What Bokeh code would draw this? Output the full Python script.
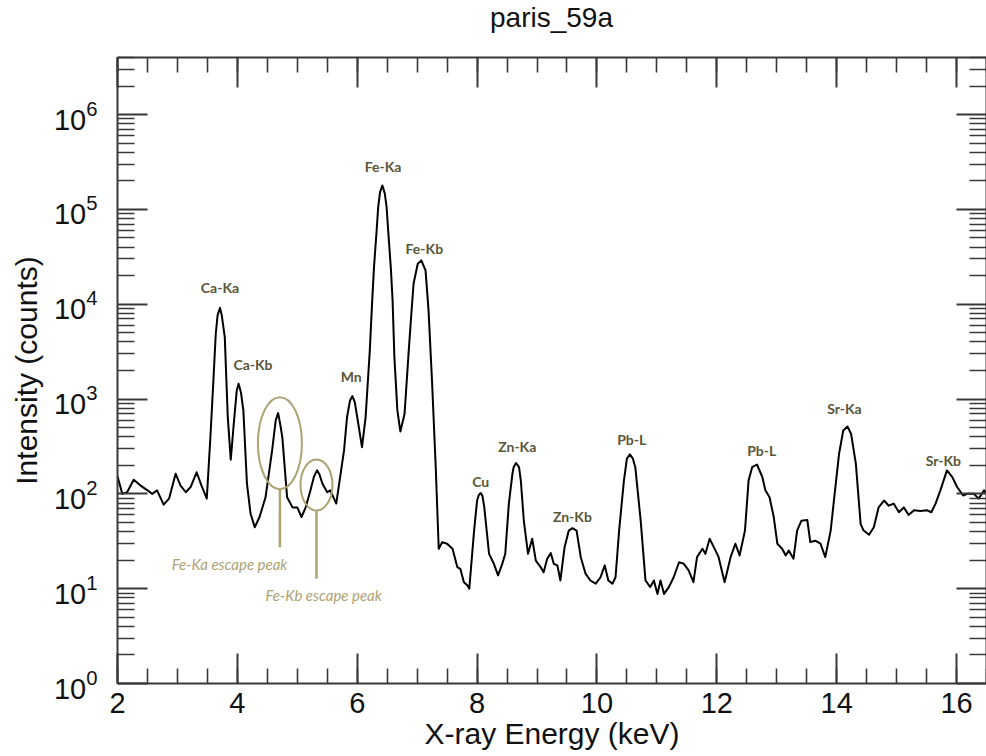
from bokeh.plotting import figure
from bokeh.layouts import column
from bokeh.models import (LogAxis, LinearAxis, FixedTicker, SingleIntervalTicker,
                          Range1d, Div)
from bokeh.core.properties import value
from bokeh.embed import file_html
from bokeh.resources import INLINE

# XRF spectrum of sample paris_59a: energy (keV) and detector counts
energy_kev = [
    2.00, 2.08, 2.16, 2.27, 2.38, 2.50, 2.58, 2.66, 2.77, 2.86, 2.97, 3.05, 3.14,
    3.22, 3.32, 3.40, 3.49, 3.55, 3.60, 3.64, 3.67, 3.71, 3.74, 3.79, 3.84, 3.89,
    3.94, 3.99, 4.02, 4.06, 4.10, 4.16, 4.22, 4.29, 4.37, 4.47, 4.58, 4.64, 4.68,
    4.71, 4.75, 4.83, 4.92, 5.00, 5.07, 5.14, 5.22, 5.28, 5.33, 5.37, 5.42, 5.50,
    5.55, 5.65, 5.78, 5.83, 5.88, 5.92, 5.96, 6.00, 6.08, 6.14, 6.21, 6.25, 6.28,
    6.32, 6.35, 6.38, 6.42, 6.46, 6.49, 6.52, 6.56, 6.59, 6.62, 6.67, 6.72, 6.79,
    6.86, 6.90, 6.94, 7.01, 7.07, 7.14, 7.19, 7.25, 7.31, 7.36, 7.42, 7.50, 7.59,
    7.67, 7.72, 7.78, 7.84, 7.87, 7.95, 8.00, 8.03, 8.06, 8.09, 8.12, 8.20, 8.28,
    8.35, 8.42, 8.47, 8.53, 8.59, 8.61, 8.65, 8.70, 8.73, 8.78, 8.85, 8.92, 8.98,
    9.06, 9.11, 9.17, 9.23, 9.28, 9.34, 9.39, 9.46, 9.53, 9.59, 9.66, 9.73, 9.81,
    9.89, 9.98, 10.06, 10.13, 10.19, 10.26, 10.31, 10.37, 10.45, 10.50, 10.55,
    10.60, 10.64, 10.73, 10.81, 10.89, 10.95, 11.01, 11.06, 11.12, 11.20, 11.28,
    11.37, 11.45, 11.53, 11.61, 11.67, 11.76, 11.81, 11.88, 11.95, 12.03, 12.13,
    12.23, 12.31, 12.38, 12.47, 12.53, 12.59, 12.67, 12.76, 12.81, 12.88, 12.95,
    13.01, 13.09, 13.15, 13.20, 13.28, 13.34, 13.41, 13.51, 13.56, 13.65, 13.73,
    13.81, 13.90, 13.96, 14.04, 14.11, 14.18, 14.24, 14.32, 14.40, 14.45, 14.54,
    14.62, 14.70, 14.79, 14.87, 14.95, 15.04, 15.12, 15.20, 15.29, 15.40, 15.51,
    15.58, 15.65, 15.73, 15.84, 15.93, 16.01, 16.11, 16.18, 16.29, 16.37, 16.46,
    16.50,
]
intensity_counts = [
    153, 100, 104, 141, 123, 109, 100, 109, 77, 89, 163, 123, 104,
    118, 169, 123, 89, 396, 1570, 4920, 7620, 9190, 7620, 4500, 645, 229,
    549, 1233, 1450, 1175, 759, 128, 62, 44.5, 57, 92, 287, 595, 710,
    567, 396, 92, 72, 72, 57, 72, 109, 153, 177, 160, 128, 104,
    109, 79, 287, 645, 967, 1074, 921, 645, 311, 645, 3260, 10970, 24650,
    55460, 105900, 151000, 179000, 147600, 105900, 55460, 24650, 10970, 2770, 759, 455, 700,
    3260, 7430, 16440, 26740, 28970, 22750, 8610, 1450, 191, 26.4, 31, 29.8, 26.4,
    16.9, 16.2, 11.7, 10.8, 10.0, 41, 85, 97.5, 102, 95, 72, 23.3, 18.3,
    13.8, 18.3, 23.3, 79, 163, 191, 211, 191, 138, 52, 23.3, 33.6, 19.8,
    16.9, 14.9, 20.7, 23.7, 18.3, 17.6, 12.2, 27.4, 41, 43.5, 41, 21.5, 14.4,
    12.2, 11.3, 13.2, 17.6, 12.2, 11.3, 13.2, 41, 138, 235, 261,
    235, 191, 52, 12.2, 10.4, 12.2, 8.8, 12.2, 8.8, 10.4, 13.2,
    19.0, 18.3, 15.6, 11.7, 21.5, 26.4, 23.3, 33.6, 27.4, 21.5, 11.7,
    21.5, 29.8, 22.4, 41, 138, 191, 204, 150, 109, 92, 57,
    29.8, 26.4, 22.4, 25.3, 20.7, 41, 52, 53, 31, 32, 29.8,
    21.5, 41, 92, 265, 467, 514, 431, 208, 48, 41, 37,
    44.5, 72, 85, 75, 79, 64, 72, 60, 67, 66, 67,
    64, 79, 109, 177, 150, 118, 96, 100, 100, 89, 109,
    100,
]

# Emission-line labels and where they sit (keV, counts)
line_names = ["Ca-Ka", "Ca-Kb", "Mn", "Fe-Ka", "Fe-Kb", "Cu", "Zn-Ka",
              "Zn-Kb", "Pb-L", "Pb-L", "Sr-Ka", "Sr-Kb"]
line_label_kev = [3.71, 4.26, 5.90, 6.43, 7.12, 8.06, 8.67,
                  9.59, 10.58, 12.75, 14.13, 15.78]
line_label_counts = [15000, 2320, 1730, 284000, 38800, 135, 316,
                     57.8, 375, 287, 796, 225]

# Escape peaks: circled peak, pointer line and caption
escape_names = ["Fe-Ka escape peak", "Fe-Kb escape peak"]
escape_kev = [4.71, 5.32]
escape_counts = [342, 124]
escape_ring_px = [(44, 92), (32, 51)]
escape_pointer_counts = [(111, 27.4), (67, 12.7)]
escape_text_kev = [3.87, 5.44]
escape_text_counts = [18.0, 8.48]

TITLE = "paris_59a"

AXIS_COLOR = "#383838"
TEXT_COLOR = "#111111"
LINE_LABEL_COLOR = "#5a5638"
ESCAPE_COLOR = "#ada273"

TITLE_H = 40
LEFT = 117

p = figure(width=986, height=756 - TITLE_H,
           x_range=Range1d(2, 16.5), y_range=Range1d(1, 4e6),
           y_axis_type="log", output_backend="svg", toolbar_location=None,
           title=None,
           min_border_left=LEFT, min_border_right=0,
           min_border_top=57 - TITLE_H, min_border_bottom=73)
p.grid.visible = False
p.outline_line_color = None
p.background_fill_color = "white"
p.border_fill_color = "white"

decades = [10.0 ** k for k in range(0, 7)]
minor_y = [m * d for d in [1, 10, 100, 1e3, 1e4, 1e5, 1e6] for m in range(2, 10)]


def style_axis(ax, minor_len):
    ax.axis_line_color = AXIS_COLOR
    ax.axis_line_width = 2
    ax.major_tick_in = 30
    ax.major_tick_out = 0
    ax.minor_tick_in = minor_len
    ax.minor_tick_out = 0
    ax.major_tick_line_color = AXIS_COLOR
    ax.major_tick_line_width = 2
    ax.minor_tick_line_color = AXIS_COLOR
    ax.minor_tick_line_width = 1.6


def hide_labels(ax):
    # mirrored frame axes: ticks only, labels invisible and tiny
    ax.major_label_text_font_size = "1px"
    ax.major_label_text_alpha = 0
    ax.major_label_standoff = 0


xa = p.xaxis[0]
xa.ticker = SingleIntervalTicker(interval=2, num_minor_ticks=4)
style_axis(xa, 15)
xa.axis_label = "X-ray Energy (keV)"
xa.axis_label_text_font = "Liberation Sans"
xa.axis_label_text_font_size = "30px"
xa.axis_label_text_font_style = "normal"
xa.axis_label_text_color = TEXT_COLOR
xa.axis_label_standoff = 1
xa.major_label_text_font = "Liberation Sans"
xa.major_label_text_font_size = "29px"
xa.major_label_text_color = TEXT_COLOR
xa.major_label_standoff = 9

ya = p.yaxis[0]
ya.ticker = FixedTicker(ticks=decades, minor_ticks=minor_y)
style_axis(ya, 17)
ya.axis_label = "Intensity (counts)"
ya.axis_label_text_font = "Liberation Sans"
ya.axis_label_text_font_size = "30px"
ya.axis_label_text_font_style = "normal"
ya.axis_label_text_color = TEXT_COLOR
ya.axis_label_standoff = 8
ya.major_label_text_font = "Liberation Sans"
ya.major_label_text_font_size = "29px"
ya.major_label_text_color = TEXT_COLOR
ya.major_label_standoff = 20

top = LinearAxis(ticker=SingleIntervalTicker(interval=2, num_minor_ticks=4))
style_axis(top, 15)
hide_labels(top)
p.add_layout(top, "above")

right = LogAxis(ticker=FixedTicker(ticks=decades, minor_ticks=minor_y))
style_axis(right, 17)
hide_labels(right)
p.add_layout(right, "right")

# spectrum
p.line(energy_kev, intensity_counts, line_color="black", line_width=2,
       line_join="round")

# emission-line labels
p.text(x=line_label_kev, y=line_label_counts, text=line_names,
       text_font=value("Lato"), text_font_style="bold", text_font_size="14px",
       text_color=LINE_LABEL_COLOR, text_align="center", text_baseline="middle")

# escape-peak markers
p.ellipse(x=escape_kev, y=escape_counts,
          width=[w for w, h in escape_ring_px], height=[h for w, h in escape_ring_px],
          width_units="screen", height_units="screen",
          fill_color=None, line_color=ESCAPE_COLOR, line_width=2)
p.segment(x0=escape_kev, y0=[a for a, b in escape_pointer_counts],
          x1=escape_kev, y1=[b for a, b in escape_pointer_counts],
          line_color=ESCAPE_COLOR, line_width=2.5)
p.text(x=escape_text_kev, y=escape_text_counts, text=escape_names,
       text_font=value("Lato"), text_font_style="italic", text_font_size="15px",
       text_color=ESCAPE_COLOR, text_align="center", text_baseline="middle")

# title strip, centred over the plot frame
title = Div(text=TITLE, width=986 - LEFT, height=TITLE_H, margin=(0, 0, 0, LEFT),
            styles={"text-align": "center", "font-family": "Liberation Sans",
                    "font-size": "28px", "line-height": "36px",
                    "color": TEXT_COLOR, "background": "white"})

page = column(title, p, spacing=0)
open("out.html", "w").write(file_html(page, INLINE))
